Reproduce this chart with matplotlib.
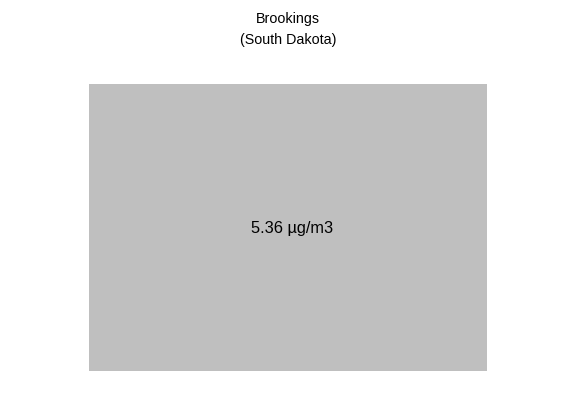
import matplotlib
matplotlib.use("Agg")
import matplotlib.pyplot as plt

plt.rcParams['font.family'] = ['Liberation Sans', 'DejaVu Sans']

# single cell: city and its PM2.5 value
city = "Brookings"
state = "South Dakota"
values = [5.36]
unit = "µg/m3"

fig = plt.figure(figsize=(5.76, 4.16), dpi=100)
ax = fig.add_axes([89/576, 1 - 371/416, (487 - 89)/576, (371 - 84)/416])

ax.bar([0], values, width=1.0, color="#bfbfbf", edgecolor="none")
ax.set_xlim(-0.5, 0.5)
ax.set_ylim(0, values[0])
ax.axis("off")

ax.text(0.509, 0.495, f"{values[0]:.2f} {unit}", transform=ax.transAxes,
        ha="center", va="center", fontsize=11.8, color="#000000")

fig.text(0.5, 1 - 19/416, city, ha="center", va="center", fontsize=10.3, color="#000000")
fig.text(0.5, 1 - 40/416, f"({state})", ha="center", va="center", fontsize=10.3, color="#000000")

fig.savefig("out.png", dpi=100)
